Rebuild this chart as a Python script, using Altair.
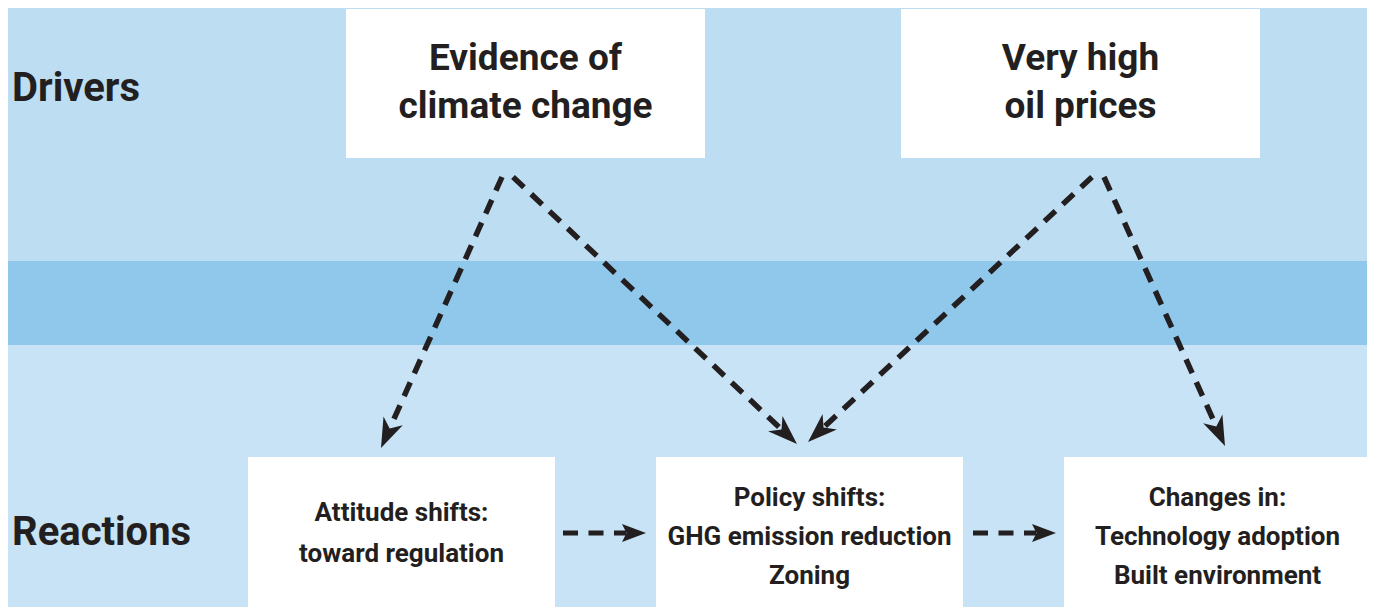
import math
import altair as alt
import pandas as pd

# ---- data -------------------------------------------------------------
band_top = [0, 261, 345]
band_bottom = [261, 345, 615]
band_colors = ["#BDDDF3", "#90C8EB", "#C7E3F5"]

box_left = [346, 901, 248, 656, 1064]
box_right = [705, 1260, 555, 963, 1371]
box_top = [9, 9, 457, 457, 457]
box_bottom = [158, 158, 607, 607, 607]

side_labels = ["Drivers", "Reactions"]
side_x = [12, 12]
side_y = [101, 545]

big_lines = ["Evidence of", "climate change", "Very high", "oil prices"]
big_x = [525.5, 525.5, 1080.5, 1080.5]
big_y = [70, 118, 70, 118]

small_lines = ["Attitude shifts:", "toward regulation",
               "Policy shifts:", "GHG emission reduction", "Zoning",
               "Changes in:", "Technology adoption", "Built environment"]
small_x = [401.5, 401.5, 809.5, 809.5, 809.5, 1217.5, 1217.5, 1217.5]
small_y = [521, 562, 506, 545, 584, 506, 545, 584]

diag_start_x = [502, 513, 1092, 1104]
diag_start_y = [177, 177, 177, 177]
diag_tip_x = [381, 797, 808, 1225]
diag_tip_y = [448, 444, 442, 446]

flow_start_x = [563, 973]
flow_tip_x = [646, 1056]
flow_y = [533, 533]

INK = "#231F20"
FONT = "Roboto, Liberation Sans, Arial"


def arrow_frame(x0, y0, x1, y1, head_len):
    rows = []
    for a, b, c, d in zip(x0, y0, x1, y1):
        dx, dy = c - a, d - b
        L = math.hypot(dx, dy)
        ang = math.degrees(math.atan2(dx, -dy)) % 360
        rows.append(dict(x=a, y=b, tx=c, ty=d,
                         ex=c - dx / L * head_len, ey=d - dy / L * head_len,
                         angle=ang))
    return pd.DataFrame(rows)


bands = pd.DataFrame(dict(x0=[0] * 3, x1=[1375] * 3, y0=band_top, y1=band_bottom, c=band_colors))
boxes = pd.DataFrame(dict(x0=box_left, x1=box_right, y0=box_top, y1=box_bottom))
side = pd.DataFrame(dict(t=side_labels, x=side_x, y=side_y))
big = pd.DataFrame(dict(t=big_lines, x=big_x, y=big_y))
small = pd.DataFrame(dict(t=small_lines, x=small_x, y=small_y))
diag = arrow_frame(diag_start_x, diag_start_y, diag_tip_x, diag_tip_y, 22)
flow = arrow_frame(flow_start_x, flow_y, flow_tip_x, flow_y, 20)

XS = alt.Scale(domain=[8, 1367], nice=False, zero=False)
YS = alt.Scale(domain=[8, 607], nice=False, zero=False, reverse=True)


def X(f):
    return alt.X(f, type="quantitative", scale=XS, axis=None)


def Y(f):
    return alt.Y(f, type="quantitative", scale=YS, axis=None)


band_layer = alt.Chart(bands).mark_rect(clip=True).encode(
    x=X("x0"), x2="x1", y=Y("y0"), y2="y1", color=alt.Color("c:N", scale=None))

box_layer = alt.Chart(boxes).mark_rect(color="white").encode(
    x=X("x0"), x2="x1", y=Y("y0"), y2="y1")

side_layer = alt.Chart(side).mark_text(
    font=FONT, fontWeight="bold",
    fontSize=40, align="left", baseline="alphabetic", color=INK
).encode(x=X("x"), y=Y("y"), text="t:N")

big_layer = alt.Chart(big).mark_text(
    font=FONT, fontWeight="bold",
    fontSize=37, align="center", baseline="alphabetic", color=INK
).encode(x=X("x"), y=Y("y"), text="t:N")

small_layer = alt.Chart(small).mark_text(
    font=FONT, fontWeight="bold",
    fontSize=26, align="center", baseline="alphabetic", color=INK
).encode(x=X("x"), y=Y("y"), text="t:N")

diag_lines = alt.Chart(diag).mark_rule(
    strokeDash=[15, 10], strokeWidth=5.5, color=INK, strokeCap="butt"
).encode(x=X("x"), y=Y("y"), x2="ex", y2="ey")

diag_heads = alt.Chart(diag).mark_point(
    shape="M0,0 L0.62,1.75 L0,1.25 L-0.62,1.75 Z", filled=True, color=INK,
    opacity=1, strokeWidth=0, size=1156
).encode(x=X("tx"), y=Y("ty"), angle=alt.Angle("angle:Q", scale=None))

flow_lines = alt.Chart(flow).mark_rule(
    strokeDash=[15, 10.5], strokeWidth=5, color=INK, strokeCap="butt"
).encode(x=X("x"), y=Y("y"), x2="ex", y2="ey")

flow_heads = alt.Chart(flow).mark_point(
    shape="M0,0 L0.6,1.6 L0,1.3 L-0.6,1.6 Z", filled=True, color=INK,
    opacity=1, strokeWidth=0, size=900
).encode(x=X("tx"), y=Y("ty"), angle=alt.Angle("angle:Q", scale=None))

chart = alt.layer(
    band_layer, box_layer, diag_lines, diag_heads, flow_lines, flow_heads,
    side_layer, big_layer, small_layer
).properties(
    width=1359, height=599, padding=0, autosize="none", background="white"
).configure_view(stroke=None)

chart.save("out.html", embed_options={"renderer": "svg", "actions": False})
